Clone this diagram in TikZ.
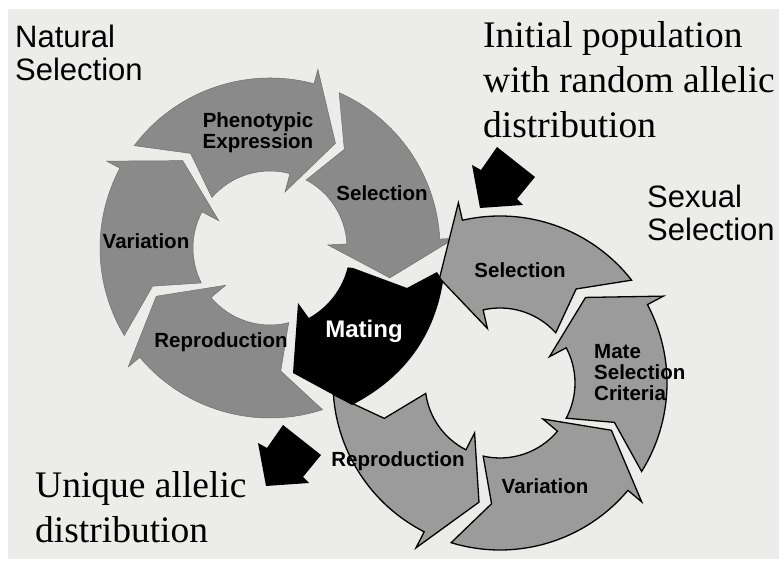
\documentclass[tikz,border=0pt]{standalone}
\usepackage{fontspec}
\setmainfont{Liberation Serif}
\setsansfont{Liberation Sans}
\definecolor{bgcol}{RGB}{236,236,234}
\definecolor{natfill}{RGB}{138,138,138}
\definecolor{sexfill}{RGB}{155,155,155}
\newcommand\headang{17}
\newcommand\kout{13}
\newcommand\kin{9}
\newcommand\obarb{15}
\newcommand\ibarb{19}
% #1 centre, #2 notch angle, #3 tip angle, #4 direction (1 ccw, -1 cw), #5 inner r, #6 outer r, #7 style
\newcommand\cyclearrow[7]{%
  \pgfmathsetmacro\cA{#2}%
  \pgfmathsetmacro\cT{#3}%
  \pgfmathsetmacro\cB{#3-(#4)*\headang}%
  \pgfmathsetmacro\cCo{#2-(#4)*\kout}%
  \pgfmathsetmacro\cCi{#2-(#4)*\kin}%
  \pgfmathsetmacro\rmid{(#5+#6)/2}%
  \pgfmathsetmacro\rob{#6+\obarb}%
  \pgfmathsetmacro\rib{#5-\ibarb}%
  \path[#7,shift={(#1)}] (\cCo:#6) arc[start angle=\cCo, end angle=\cB, radius=#6]
    -- (\cB:\rob) -- (\cT:\rmid) -- (\cB:\rib) -- (\cB:#5)
    arc[start angle=\cB, end angle=\cCi, radius=#5] -- (\cA:\rmid) -- cycle;
}
\newcommand\blockarrow[1]{%
  \fill[black,shift={(#1)}] (0,0) -- (-8,43) -- (1,38) -- (17,61) -- (55,31) -- (37,9) -- (43,3) -- cycle;
}
\tikzset{
  natarrow/.style={fill=natfill, draw=natfill!80!black, line width=0.5pt},
  sexarrow/.style={fill=sexfill, draw=black, line width=1.3pt, line join=miter},
  lbl/.style={font=\sffamily\bfseries\fontsize{20.5}{21}\selectfont, align=center, inner sep=0pt},
  title/.style={font=\sffamily\fontsize{31}{33}\selectfont, align=left, inner sep=0pt, anchor=north west},
  note/.style={font=\rmfamily\fontsize{37.5}{45}\selectfont, align=left, inner sep=0pt, anchor=north west},
}
\begin{document}
\begin{tikzpicture}[x=1pt,y=1pt]
\useasboundingbox (0,0) rectangle (779,561);
\fill[white] (0,0) rectangle (779,561);
\fill[bgcol] (8,2) rectangle (779,552);
\coordinate (N) at (270,313);
\coordinate (S) at (500,178);
\coordinate (TA) at (480,353);
\coordinate (TB) at (266,75);

% natural selection cycle (clockwise)
\cyclearrow{N}{130}{58}{-1}{77}{170}{natarrow}
\cyclearrow{N}{53}{-14}{-1}{77}{170}{natarrow}
\cyclearrow{N}{275}{203}{-1}{77}{170}{natarrow}
\cyclearrow{N}{198}{135}{-1}{77}{170}{natarrow}

% sexual selection cycle (counter-clockwise)
\renewcommand\obarb{18}
\cyclearrow{S}{51}{120}{1}{75}{167}{sexarrow}
\cyclearrow{S}{-19}{45}{1}{75}{167}{sexarrow}
\cyclearrow{S}{-94}{-23}{1}{75}{167}{sexarrow}
\cyclearrow{S}{197}{260}{1}{75}{167}{sexarrow}

% shared Mating arrow
\fill[black] (353,293) -- (407,273) -- (437,289) -- (443,279)
  .. controls (435,231) and (410,186) .. (352,156)
  -- (293,188) -- (298,258) -- (308.8,243)
  arc[start angle=-61, end angle=-14, radius=80] -- cycle;

% labels
\node[lbl] (phen) at (258,428) {Phenotypic\\Expression};
\node[lbl] (nsel) at (382,368) {Selection};
\node[lbl] (nvar) at (146,320) {Variation};
\node[lbl] (nrep) at (221,219) {Reproduction};
\node[lbl, text=white, font=\sffamily\bfseries\fontsize{24}{26}\selectfont] (mat) at (364,230) {Mating};
\node[lbl] (ssel) at (520,291) {Selection};
\node[lbl, align=left, anchor=west] (msc) at (594,188) {Mate\\Selection\\Criteria};
\node[lbl] (svar) at (545,75) {Variation};
\node[lbl] (srep) at (398,100) {Reproduction};

% titles and notes
\node[title] (nat) at (15,536) {Natural\\Selection};
\node[title] (sex) at (647,376) {Sexual\\Selection};
\node[note] (init) at (483,540) {Initial population\\with random allelic\\distribution};
\node[note] (uniq) at (35,90) {Unique allelic\\distribution};

% block arrows
\blockarrow{TA}
\blockarrow{TB}
\end{tikzpicture}
\end{document}
